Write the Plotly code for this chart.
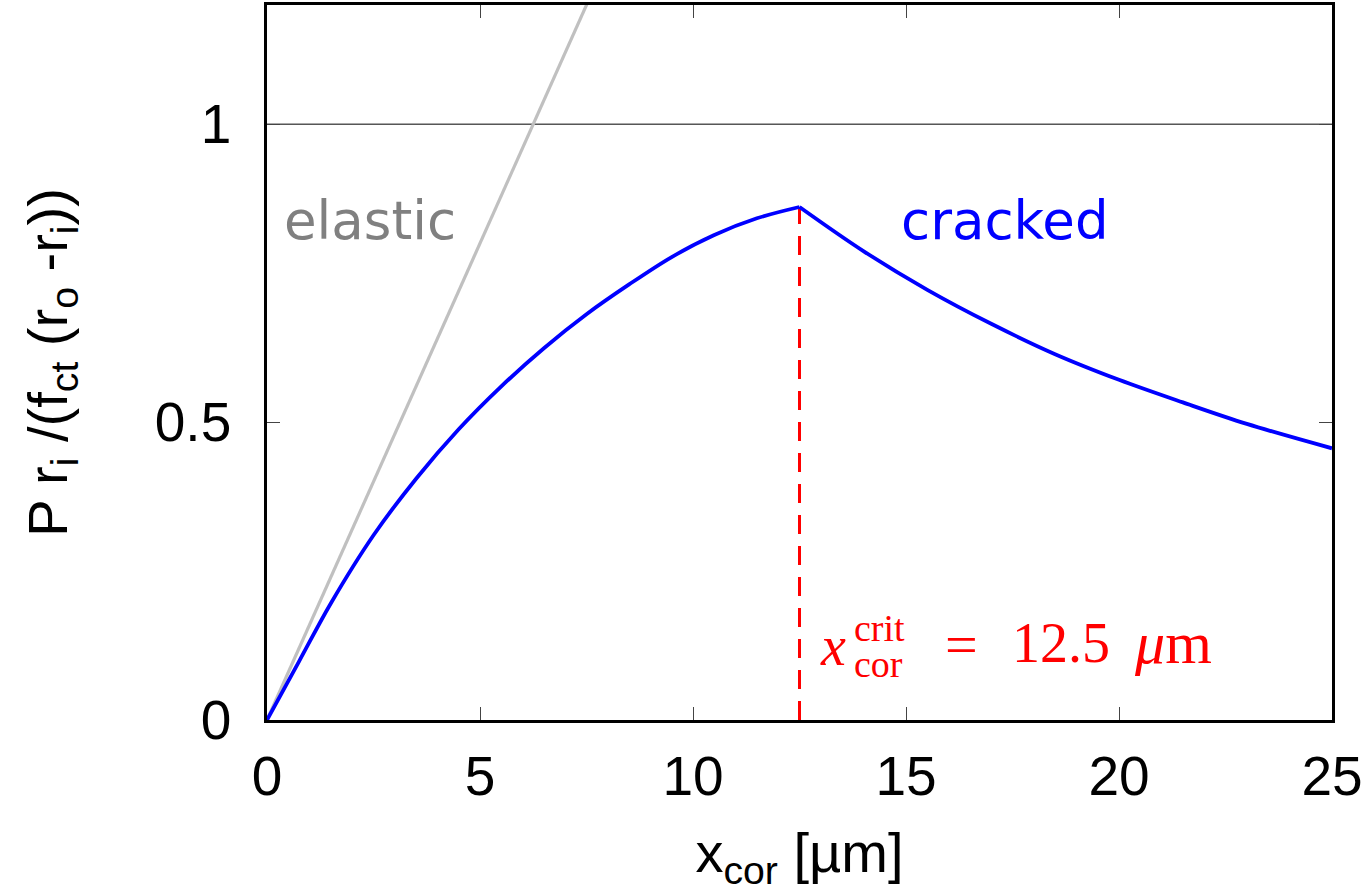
import plotly.graph_objects as go

# Data
rise_x = [0, 0.75, 1.5, 2.5, 3.5, 4.5, 5.5, 6.5, 7.5, 8.5, 9.5, 10.5, 11.5, 12.5]
rise_y = [0, 0.098, 0.196, 0.310, 0.405, 0.488, 0.560, 0.624, 0.681, 0.731, 0.777, 0.814, 0.842, 0.861]
fall_x = [12.5, 14.0, 15.5, 17.0, 18.5, 20.0, 21.5, 23.0, 25.0]
fall_y = [0.861, 0.787, 0.722, 0.665, 0.614, 0.571, 0.533, 0.497, 0.456]
elastic_x = [0, 8]
elastic_y = [0, 1.28]
crit_x = [12.5, 12.5]
crit_y = [0, 0.861]
limit_x = [0, 25]
limit_y = [1, 1]

x_ticks = [0, 5, 10, 15, 20, 25]
y_ticks = [0, 0.5, 1]
y_ticklabels = ["0", "0.5", "1"]

SANS = "Liberation Sans, Arial, Helvetica, sans-serif"
LABEL = "DejaVu Sans, sans-serif"
SERIF = "Liberation Serif, DejaVu Serif, serif"
RED = "#ff0000"
BLUE = "#0000ff"

fig = go.Figure()
fig.add_trace(go.Scatter(x=limit_x, y=limit_y, mode="lines",
                         line=dict(color="black", width=1), hoverinfo="skip"))
fig.add_trace(go.Scatter(x=elastic_x, y=elastic_y, mode="lines",
                         line=dict(color="#c0c0c0", width=3.2)))
fig.add_trace(go.Scatter(x=crit_x, y=crit_y, mode="lines",
                         line=dict(color=RED, width=3, dash="19px,12px")))
fig.add_trace(go.Scatter(x=rise_x, y=rise_y, mode="lines",
                         line=dict(color=BLUE, width=3.8, shape="spline", smoothing=1.0)))
fig.add_trace(go.Scatter(x=fall_x, y=fall_y, mode="lines",
                         line=dict(color=BLUE, width=3.8, shape="spline", smoothing=1.0)))

fig.add_annotation(x=2.42, y=0.838, text="elastic", showarrow=False,
                   font=dict(family=LABEL, size=53, color="#808080"))
fig.add_annotation(x=17.32, y=0.838, text="cracked", showarrow=False,
                   font=dict(family=LABEL, size=53, color=BLUE))

# x_cor^crit = 12.5 µm
fig.add_annotation(x=13.29, y=0.125, text="<i>x</i>", showarrow=False,
                   font=dict(family=SERIF, size=56, color=RED))
fig.add_annotation(x=13.74, y=0.155, text="crit", showarrow=False, xanchor="left",
                   font=dict(family=SERIF, size=38, color=RED))
fig.add_annotation(x=13.74, y=0.094, text="cor", showarrow=False, xanchor="left",
                   font=dict(family=SERIF, size=38, color=RED))
fig.add_annotation(x=16.31, y=0.127, text="=", showarrow=False,
                   font=dict(family=SERIF, size=58, color=RED))
fig.add_annotation(x=17.44, y=0.130, text="12.5", showarrow=False, xanchor="left",
                   font=dict(family=SERIF, size=56, color=RED))
fig.add_annotation(x=20.30, y=0.130, text="<i>μ</i>m", showarrow=False, xanchor="left",
                   font=dict(family=SERIF, size=60, color=RED))

axis_common = dict(showgrid=False, zeroline=False, showline=True, linecolor="black",
                   linewidth=2.5, mirror="ticks", ticks="inside", ticklen=13,
                   tickcolor="#444444", tickwidth=1,
                   tickfont=dict(family=SANS, size=55, color="black"))

fig.update_xaxes(range=[0, 25], tickvals=x_ticks, ticklabelstandoff=6,
                 title=dict(text="x<sub>cor</sub> [µm]", font=dict(family=SANS, size=56, color="black"),
                            standoff=28),
                 **axis_common)
fig.update_yaxes(range=[0, 1.2], tickvals=y_ticks, ticktext=y_ticklabels, ticklabelstandoff=22,
                 title=dict(text="P r<sub>i</sub> /(f<sub>ct</sub> (r<sub>o</sub> -r<sub>i</sub>))",
                            font=dict(family=SANS, size=56, color="black"), standoff=70),
                 **axis_common)

fig.update_layout(width=1372, height=893, showlegend=False,
                  plot_bgcolor="white", paper_bgcolor="white",
                  margin=dict(l=267, r=40, t=5, b=173, autoexpand=False))

fig.write_html("out.html", config={"displayModeBar": False},
               post_script="document.body.style.margin='0px';")
